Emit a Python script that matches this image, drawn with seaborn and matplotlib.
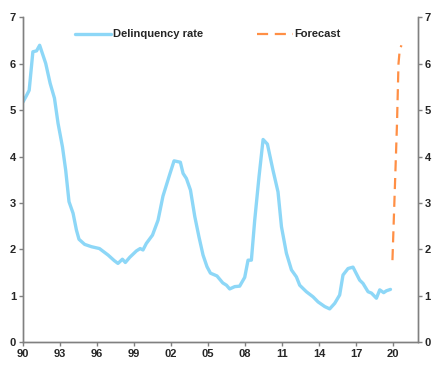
"""Delinquency rate with forecast, dual y-axis."""
import matplotlib
matplotlib.use("Agg")
import matplotlib.pyplot as plt
import pandas as pd
import seaborn as sns

sns.set_theme(style="white")
plt.rcParams["font.family"] = ["Liberation Sans", "DejaVu Sans"]
plt.rcParams["font.weight"] = "bold"

# historical series (year as decimal, rate %)
hist_years = [
    1990.0, 1990.25, 1990.5, 1990.8, 1991.1, 1991.35, 1991.84, 1992.2, 1992.55, 1992.84,
    1993.2, 1993.46, 1993.73, 1994.06, 1994.33, 1994.54, 1995.0, 1995.55, 1996.2, 1996.9,
    1997.4, 1997.7, 1998.06, 1998.3, 1998.65, 1999.2, 1999.5, 1999.73, 2000.0, 2000.5,
    2000.95, 2001.35, 2001.9, 2002.25, 2002.76, 2002.98, 2003.25, 2003.58, 2003.93, 2004.27,
    2004.6, 2004.92, 2005.2, 2005.73, 2006.2, 2006.5, 2006.76, 2007.17, 2007.57, 2007.98,
    2008.25, 2008.52, 2008.79, 2009.14, 2009.47, 2009.82, 2010.27, 2010.68, 2010.96, 2011.36,
    2011.77, 2012.17, 2012.44, 2012.98, 2013.52, 2013.93, 2014.47, 2014.87, 2015.28, 2015.68,
    2015.95, 2016.36, 2016.76, 2017.3, 2017.57, 2017.98, 2018.26, 2018.66, 2018.93, 2019.25,
    2019.47, 2019.8,
]
hist_rate = [
    5.18, 5.30, 5.43, 6.26, 6.28, 6.40, 6.01, 5.58, 5.26, 4.72,
    4.21, 3.71, 3.03, 2.78, 2.42, 2.22, 2.11, 2.06, 2.02, 1.88,
    1.76, 1.70, 1.79, 1.72, 1.83, 1.97, 2.02, 1.99, 2.13, 2.31,
    2.63, 3.15, 3.62, 3.91, 3.88, 3.64, 3.53, 3.28, 2.71, 2.27,
    1.88, 1.63, 1.49, 1.43, 1.28, 1.23, 1.15, 1.20, 1.21, 1.40,
    1.77, 1.77, 2.63, 3.57, 4.37, 4.27, 3.71, 3.24, 2.49, 1.92,
    1.56, 1.41, 1.23, 1.09, 0.98, 0.87, 0.77, 0.72, 0.84, 1.02,
    1.45, 1.59, 1.62, 1.34, 1.27, 1.09, 1.06, 0.95, 1.13, 1.07,
    1.11, 1.14,
]

fc_years = [2019.96, 2020.15, 2020.33, 2020.45, 2020.55, 2020.69]
fc_rate = [1.77, 3.28, 4.72, 6.00, 6.30, 6.40]

x_ticks = [1990, 1993, 1996, 1999, 2002, 2005, 2008, 2011, 2014, 2017, 2020]
x_labels = ["90", "93", "96", "99", "02", "05", "08", "11", "14", "17", "20"]
y_ticks = [0, 1, 2, 3, 4, 5, 6, 7]

hist = pd.DataFrame({"year": hist_years, "rate": hist_rate})
fc = pd.DataFrame({"year": fc_years, "rate": fc_rate})

BLUE = "#8DD7F7"
ORANGE = "#FF8F45"
GREY = "#808080"

fig = plt.figure(figsize=(4.35, 3.79), dpi=100)
ax = fig.add_axes([0.0529, 0.0968, 0.9071, 0.8572])

sns.lineplot(data=hist, x="year", y="rate", ax=ax, color=BLUE, linewidth=2.4,
             label="Delinquency rate", sort=False)
sns.lineplot(data=fc, x="year", y="rate", ax=ax, color=ORANGE, linewidth=1.6,
             label="Forecast", sort=False)
ax.lines[-1].set_dashes([5, 3])

ax.set_xlim(1990, 2022)
ax.set_ylim(0, 7)
ax.set_xticks(x_ticks)
ax.set_xticklabels(x_labels)
ax.set_yticks(y_ticks)
ax.set_xlabel("")
ax.set_ylabel("")

ax2 = ax.twinx()
ax2.set_ylim(0, 7)
ax2.set_yticks(y_ticks)

for a in (ax, ax2):
    a.spines["top"].set_visible(False)
    for s in ("left", "right", "bottom"):
        a.spines[s].set_color(GREY)
        a.spines[s].set_linewidth(1.0)
    a.tick_params(axis="both", which="both", length=3, width=1, color=GREY,
                  labelsize=8, pad=2, direction="out")
ax.tick_params(left=True, bottom=True)
ax2.tick_params(right=True)
for lbl in ax.get_xticklabels() + ax.get_yticklabels() + ax2.get_yticklabels():
    lbl.set_fontweight("bold")

leg = ax.legend(loc="upper left", bbox_to_anchor=(0.133, 0.963), ncol=2, frameon=False,
                fontsize=8, handlelength=3.2, handletextpad=0.15, columnspacing=4.9,
                borderpad=0, borderaxespad=0)
for t in leg.get_texts():
    t.set_fontweight("bold")

fig.savefig("out.png", dpi=100)
plt.close(fig)
